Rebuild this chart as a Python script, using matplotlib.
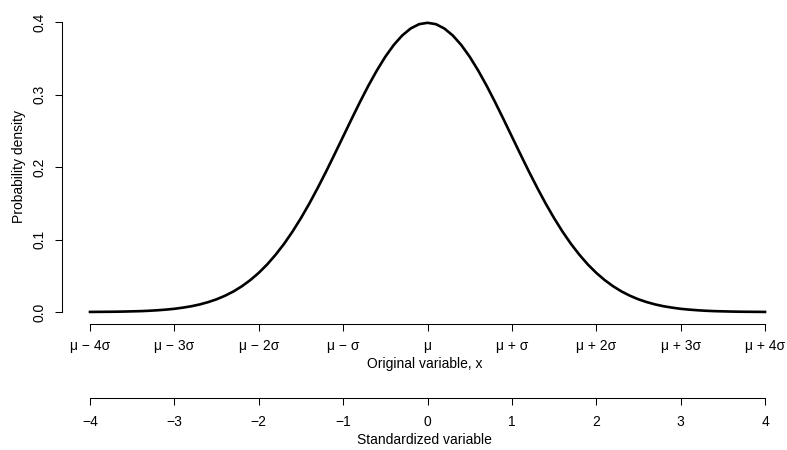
import matplotlib
matplotlib.use("Agg")
import matplotlib.pyplot as plt
import numpy as np

plt.rcParams['font.family'] = ['Liberation Sans', 'DejaVu Sans']

# standardized positions (-4 .. 4 in steps of 0.1) and the density
z = np.linspace(-4, 4, 81)
density = [0.0001, 0.0002, 0.0003, 0.0004, 0.0006, 0.0009, 0.0012, 0.0017, 0.0024, 0.0033,
           0.0044, 0.0060, 0.0079, 0.0104, 0.0136, 0.0175, 0.0224, 0.0283, 0.0355, 0.0440,
           0.0540, 0.0656, 0.0790, 0.0940, 0.1109, 0.1295, 0.1497, 0.1714, 0.1942, 0.2179,
           0.2420, 0.2661, 0.2897, 0.3123, 0.3332, 0.3521, 0.3683, 0.3814, 0.3910, 0.3970,
           0.3989,
           0.3970, 0.3910, 0.3814, 0.3683, 0.3521, 0.3332, 0.3123, 0.2897, 0.2661, 0.2420,
           0.2179, 0.1942, 0.1714, 0.1497, 0.1295, 0.1109, 0.0940, 0.0790, 0.0656, 0.0540,
           0.0440, 0.0355, 0.0283, 0.0224, 0.0175, 0.0136, 0.0104, 0.0079, 0.0060, 0.0044,
           0.0033, 0.0024, 0.0017, 0.0012, 0.0009, 0.0006, 0.0004, 0.0003, 0.0002, 0.0001]

std_ticks = [-4, -3, -2, -1, 0, 1, 2, 3, 4]
orig_labels = ['μ − 4σ', 'μ − 3σ', 'μ − 2σ', 'μ − σ', 'μ',
               'μ + σ', 'μ + 2σ', 'μ + 3σ', 'μ + 4σ']
std_labels = ['−4', '−3', '−2', '−1', '0', '1', '2', '3', '4']
y_ticks = [0.0, 0.1, 0.2, 0.3, 0.4]

W, H = 787, 450
fig = plt.figure(figsize=(W / 100, H / 100), dpi=100)
# axes box in pixels: left 62, right 787, bottom 324, top 10
ax = fig.add_axes([62 / W, 1 - 324 / H, (787 - 62) / W, (324 - 10) / H])

ax.plot(z, density, color='black', lw=1.9)

pxu = 675 / 8.0
ax.set_xlim(-4 - 28 / pxu, 4 + 22 / pxu)
ax.set_ylim(-12 / 725, 0.4 + 12 / 725)

for s in ['top', 'right']:
    ax.spines[s].set_visible(False)
ax.spines['left'].set_bounds(0, 0.4)
ax.spines['bottom'].set_bounds(-4, 4)
for s in ['left', 'bottom']:
    ax.spines[s].set_linewidth(0.75)

fs = 10
ax.set_yticks(y_ticks)
ax.set_yticklabels(['0.0', '0.1', '0.2', '0.3', '0.4'], rotation=90, va='center')
ax.tick_params(axis='y', length=5, width=0.75, pad=6, labelsize=fs)
ax.set_ylabel('Probability density', fontsize=fs, labelpad=5)

ax.set_xticks(std_ticks)
ax.set_xticklabels(orig_labels)
ax.tick_params(axis='x', length=5, width=0.75, pad=6, labelsize=fs)
ax.set_xlabel('Original variable, x', fontsize=fs, labelpad=3)

sec = ax.secondary_xaxis(-(398 - 324) / 314)
sec.set_xticks(std_ticks)
sec.set_xticklabels(std_labels)
sec.spines['bottom'].set_bounds(-4, 4)
sec.spines['bottom'].set_linewidth(0.75)
sec.tick_params(axis='x', length=5, width=0.75, pad=7, labelsize=fs)
sec.set_xlabel('Standardized variable', fontsize=fs, labelpad=3)

fig.savefig('out.png', dpi=100)
